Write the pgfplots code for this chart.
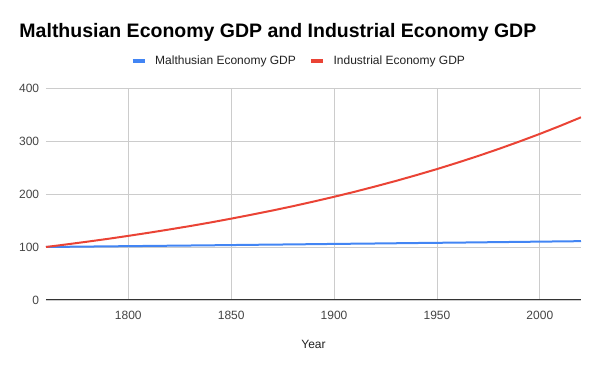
\documentclass[border=0pt]{standalone}
\usepackage{pgfplots}
\pgfplotsset{compat=1.18}
\usepackage{fontspec}
\setmainfont{Liberation Sans}
\definecolor{gblue}{HTML}{4285F4}
\definecolor{gred}{HTML}{EA4335}
\definecolor{gridc}{HTML}{CCCCCC}
\definecolor{txt}{HTML}{444444}
\definecolor{axc}{HTML}{333333}
\begin{document}
\begin{tikzpicture}[x=1pt,y=1pt]
\useasboundingbox (0,0) rectangle (600,371);
\node[anchor=base west, inner sep=0pt, font=\fontsize{19.5}{22}\selectfont\bfseries] at (19.3,333) {Malthusian Economy GDP and Industrial Economy GDP};
\begin{axis}[
  at={(46pt,71pt)}, anchor=south west,
  scale only axis, width=535pt, height=212pt,
  xmin=1760, xmax=2020, ymin=0, ymax=400,
  xtick={1800,1850,1900,1950,2000},
  ytick={0,100,200,300,400},
  grid=major,
  major grid style={gridc, line width=0.8pt},
  major tick length=0pt,
  separate axis lines,
  axis x line*=bottom,
  axis y line*=left,
  x axis line style={-, draw=axc, line width=1pt},
  y axis line style={draw=none},
  /pgf/number format/assume math mode=true,
  /pgf/number format/1000 sep={},
  ticklabel style={font=\fontsize{12}{14}\selectfont, text=txt},
  yticklabel style={anchor=east, inner sep=0pt, xshift=-6.7pt},
  xticklabel style={anchor=north, inner sep=0pt, yshift=-10.7pt},
  xlabel={Year},
  xlabel style={at={(axis description cs:0.5,0)}, anchor=base, inner sep=0pt, yshift=-49pt, font=\fontsize{12}{14}\selectfont, text=black!87},
  legend columns=2,
  legend style={at={(0.1576,1.126)}, anchor=west, draw=none, fill=none, inner sep=0pt,
    nodes={inner sep=0pt, font=\fontsize{12}{14}\selectfont, text=black!87},
    /tikz/every odd column/.append style={column sep=8.7pt},
    /tikz/every even column/.append style={column sep=13pt}},
  legend image code/.code={\draw[#1, line width=4pt] (0pt,0pt) -- (12pt,0pt);},
]
\addplot[gblue, line width=2pt] coordinates {
(1760,100.0) (1780,100.8) (1800,101.6) (1820,102.4) (1840,103.2) (1860,104.1) (1880,104.9)
(1900,105.8) (1920,106.6) (1940,107.5) (1960,108.3) (1980,109.2) (2000,110.1) (2020,111.0)};
\addlegendentry{Malthusian Economy GDP}
\addplot[gred, line width=2pt] coordinates {
(1760,100.0) (1770,104.9) (1780,110.0) (1790,115.3) (1800,121.0) (1810,126.9) (1820,133.1)
(1830,139.5) (1840,146.3) (1850,153.5) (1860,161.0) (1870,168.8) (1880,177.0) (1890,185.7)
(1900,194.7) (1910,204.2) (1920,214.2) (1930,224.6) (1940,235.6) (1950,247.0) (1960,259.1)
(1970,271.7) (1980,285.0) (1990,298.9) (2000,313.4) (2010,328.7) (2020,344.7)};
\addlegendentry{Industrial Economy GDP}
\end{axis}
\end{tikzpicture}
\end{document}
